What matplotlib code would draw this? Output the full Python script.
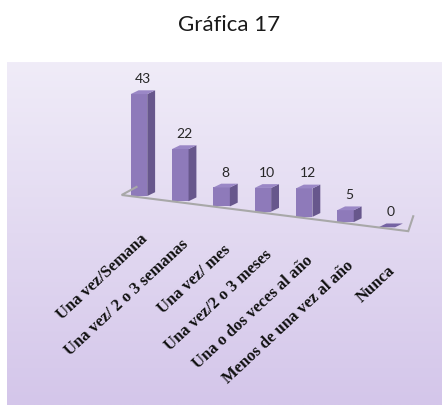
import matplotlib
matplotlib.use('Agg')
import matplotlib.pyplot as plt
from matplotlib.patches import Polygon
import numpy as np

categories = ['Una vez/Semana', 'Una vez/ 2 o 3 semanas', 'Una vez/ mes',
              'Una vez/2 o 3 meses', 'Una o dos veces al año',
              'Menos de una vez al año', 'Nunca']
values = [43, 22, 8, 10, 12, 5, 0]

# layout of the fake 3d view (pixels of a 442x406 figure)
W, H = 442, 406
x0_px, xstep_px = 139, 41.3     # front face centre of first bar, spacing
y0_px, yunit_px = 197, 2.37     # baseline of first bar (from top), px per unit
drop = 2.2                      # baseline slope, units per category
bw = 0.40                       # front face width
dx, dy = 0.19, 1.6              # depth of the bars

front_c = '#8e7aba'
side_c = '#67578c'
top_c = '#9a87c6'

fig = plt.figure(figsize=(W / 100, H / 100), dpi=100)
fig.patch.set_facecolor('white')

# panel with a soft vertical gradient
bg = fig.add_axes([7 / W, 0, 1 - 7 / W, (H - 63) / H])
grad = np.linspace(0, 1, 256).reshape(-1, 1)
top_rgb = np.array([0xf0, 0xec, 0xf8]) / 255
bot_rgb = np.array([0xd4, 0xc6, 0xea]) / 255
img = top_rgb + (bot_rgb - top_rgb) * grad[:, :, None]
bg.imshow(img, aspect='auto', extent=[0, 1, 0, 1])
bg.axis('off')

ax = fig.add_axes([0, 0, 1, 1])
ax.patch.set_alpha(0)
ax.set_xlim(-x0_px / xstep_px, (W - x0_px) / xstep_px)
ax.set_ylim((y0_px - H) / yunit_px, y0_px / yunit_px)
ax.axis('off')

# floor outline (front, left and right edges)
fl, fr = -0.42, 6.52
base_l, base_r = -drop * fl - 0.5, -drop * fr - 0.5
floor_x = [fl + 0.36, fl, fr, fr + 0.12]
floor_y = [base_l + 3.4, base_l, base_r, base_r + 6.3]
ax.plot(floor_x, floor_y, color='#a8a8a8', lw=1.5, solid_joinstyle='miter')

for i, v in enumerate(values):
    base = -drop * i
    l, r = i - bw / 2, i + bw / 2
    t = base + v
    ax.add_patch(Polygon([(l, base), (r, base), (r, t), (l, t)],
                         closed=True, fc=front_c, ec='none'))
    ax.add_patch(Polygon([(r, base), (r + dx, base + dy), (r + dx, t + dy), (r, t)],
                         closed=True, fc=side_c, ec='none'))
    ax.add_patch(Polygon([(l, t), (r, t), (r + dx, t + dy), (l + dx, t + dy)],
                         closed=True, fc=top_c if v else '#7563a3', ec='none'))
    ax.text(i + dx / 2, t + dy + 2.6, str(v), ha='center', va='bottom',
            fontsize=10, family='Lato', color='#262626')
    ax.text(i + 0.02, base - 14.5, categories[i], ha='right', va='top',
            rotation=43, rotation_mode='anchor', fontsize=12,
            family='Liberation Serif', fontweight='bold', color='#111111')

fig.text(229 / W, 1 - 25 / H, 'Gráfica 17', ha='center', va='center',
         fontsize=16, family='Lato', color='#1a1a1a')

fig.savefig('out.png', dpi=100)
